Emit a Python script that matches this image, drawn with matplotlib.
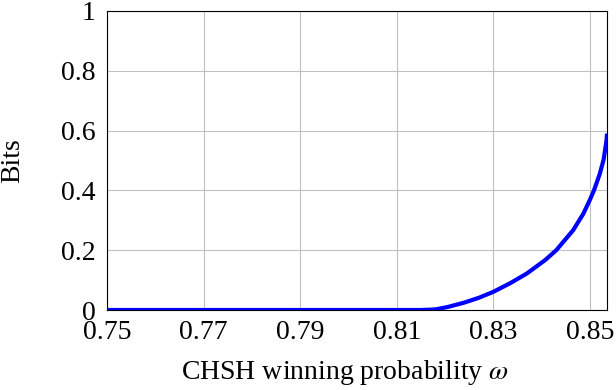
import numpy as np
import matplotlib.pyplot as plt

plt.rcParams['font.family'] = ['Liberation Serif', 'DejaVu Serif']
plt.rcParams['mathtext.fontset'] = 'stix'

# curve
omega = [0.75, 0.80, 0.815, 0.818, 0.8205, 0.8238, 0.827, 0.830, 0.8335, 0.8369,
         0.8407, 0.843, 0.8465, 0.8486, 0.850, 0.8508, 0.852, 0.8528, 0.8534, 0.8535]
bits = [0.0, 0.0, 0.0, 0.002, 0.010, 0.024, 0.041, 0.061, 0.090, 0.122,
        0.167, 0.200, 0.267, 0.322, 0.370, 0.400, 0.455, 0.503, 0.567, 0.590]

xticks = [0.75, 0.77, 0.79, 0.81, 0.83, 0.85]
yticks = [0, 0.2, 0.4, 0.6, 0.8, 1]

fig = plt.figure(figsize=(6.16, 3.90), dpi=100)
ax = fig.add_axes([107/616, 1 - 310/390, 500/616, 299/390])

ax.plot(omega, bits, color='blue', lw=3, solid_capstyle='butt', zorder=3)

ax.set_xlim(0.75, 0.8535)
ax.set_ylim(0, 1)
ax.set_xticks(xticks)
ax.set_xticklabels([f'{t:.2f}' for t in xticks])
ax.set_yticks(yticks)
ax.set_yticklabels(['0', '0.2', '0.4', '0.6', '0.8', '1'])
ax.grid(True, color='#c0c0c0', lw=0.8)
ax.tick_params(direction='in', length=0, labelsize=20)
ax.tick_params(axis='y', pad=8)
ax.tick_params(axis='x', pad=7)
for s in ax.spines.values():
    s.set_linewidth(0.8)

ax.set_xlabel(r'CHSH winning probability $\omega$', fontsize=20)
ax.xaxis.set_label_coords(238/500, -48/299)
ax.set_ylabel('Bits', fontsize=20)
ax.yaxis.set_label_coords(-82/500, 0.5)

fig.savefig('out.png', dpi=100)
